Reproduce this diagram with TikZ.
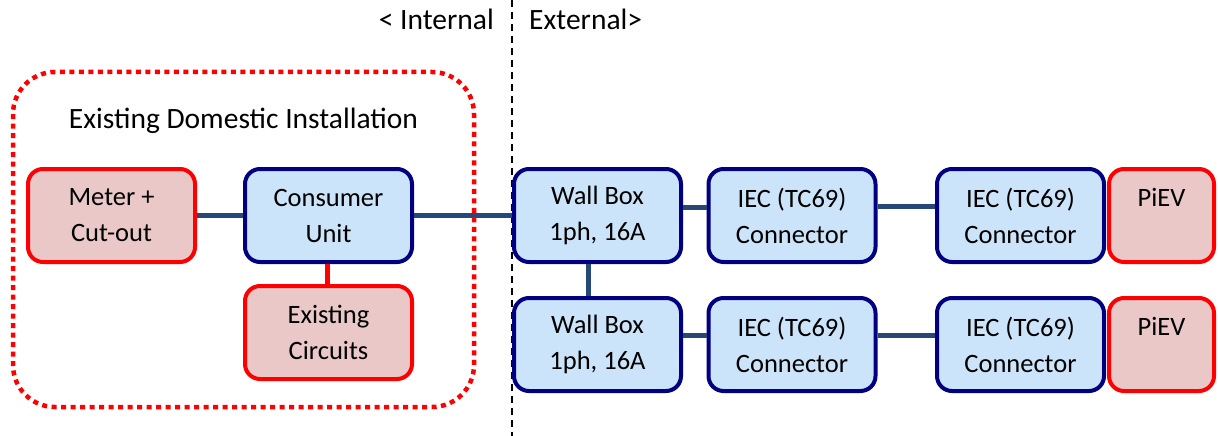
\documentclass[tikz,border=0pt]{standalone}
\usepackage{fontspec}
\setmainfont{Carlito}
\definecolor{boxblue}{RGB}{204,228,250}
\definecolor{boxnavy}{RGB}{0,0,128}
\definecolor{boxpink}{RGB}{234,200,200}
\definecolor{boxred}{RGB}{255,0,0}
\definecolor{wire}{RGB}{38,72,120}
\tikzset{
  unit/.style={rectangle, rounded corners=15pt, line width=4pt,
    minimum width=167pt, minimum height=93pt, align=center,
    font=\fontsize{26.5}{36}\selectfont, inner sep=0pt},
  newkit/.style={unit, draw=boxnavy, fill=boxblue},
  oldkit/.style={unit, draw=boxred, fill=boxpink},
  wirelink/.style={draw=wire, line width=5pt},
  oldlink/.style={draw=boxred, line width=5pt},
  label/.style={font=\fontsize{29.5}{34}\selectfont, inner sep=0pt},
}
\begin{document}
\begin{tikzpicture}[x=1pt,y=-1pt]
\useasboundingbox (0,0) rectangle (1218,436);

% internal / external boundary
\coordinate (btop) at (512,0);
\coordinate (bbot) at (512,436);
\draw[black, line width=1.5pt, dash pattern=on 7pt off 5pt] (btop) -- (bbot);
\node[label, anchor=east] (int) at (494,19) {< Internal};
\node[label, anchor=west] (ext) at (529,19) {External>};

% existing domestic installation
\node[oldkit] (meter) at (111.5,215.5) {Meter +\\Cut-out};
\node[newkit] (cu) at (328.5,215.5) {Consumer\\Unit};
\node[oldkit] (circ) at (328.5,332.5) {Existing\\Circuits};

% charging chain, upper row
\node[newkit] (wb1) at (597.5,215.5) {Wall Box\\1ph, 16A};
\node[newkit] (ca1) at (792,215.5) {IEC (TC69)\\Connector};
\node[newkit] (cb1) at (1020.5,215.5) {IEC (TC69)\\Connector};
\node[oldkit, minimum width=105pt] (ev1) at (1161.5,215.5) {PiEV\\\phantom{P}};

% charging chain, lower row
\node[newkit] (wb2) at (597.5,344.5) {Wall Box\\1ph, 16A};
\node[newkit] (ca2) at (792,344.5) {IEC (TC69)\\Connector};
\node[newkit] (cb2) at (1020.5,344.5) {IEC (TC69)\\Connector};
\node[oldkit, minimum width=105pt] (ev2) at (1161.5,344.5) {PiEV\\\phantom{P}};

% wiring
\draw[wirelink] (meter.east) -- (cu.west);
\draw[wirelink] (cu.east) -- (wb1.west);
\draw[oldlink] ([xshift=-1.5pt]cu.south) -- ([xshift=-1.5pt]circ.north);
\draw[wirelink] ([yshift=8.5pt]wb1.east) -- ([yshift=8.5pt]ca1.west);
\draw[wirelink] ([yshift=9.5pt]ca1.east) -- ([yshift=9.5pt]cb1.west);
\draw[wirelink] ([xshift=-9.5pt]wb1.south) -- ([xshift=-9.5pt]wb2.north);
\draw[wirelink] ([yshift=9.5pt]wb2.east) -- ([yshift=9.5pt]ca2.west);
\draw[wirelink] ([yshift=9.5pt]ca2.east) -- ([yshift=9.5pt]cb2.west);

% installation boundary
\draw[boxred, line width=4.5pt, dash pattern=on 5pt off 4.5pt, rounded corners=42pt]
  (13,72) rectangle (474,407);
\node[label] (inst) at (243.5,121) {Existing Domestic Installation};
\end{tikzpicture}
\end{document}
